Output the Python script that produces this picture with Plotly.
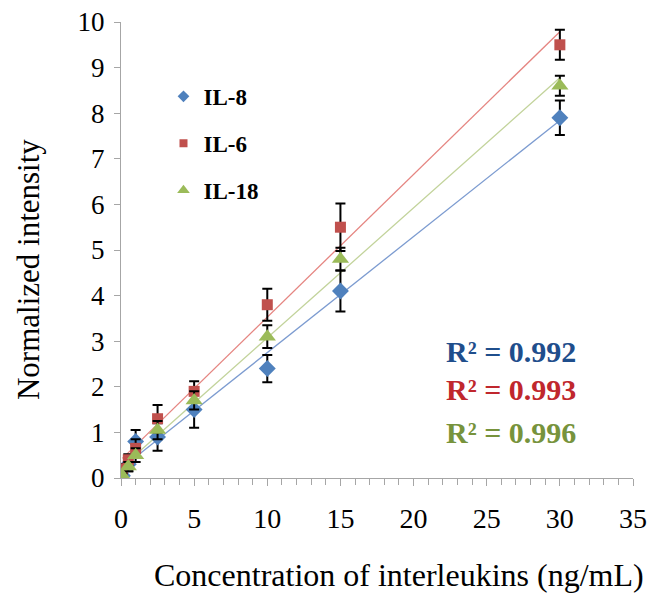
import numpy as np
import plotly.graph_objects as go

conc = [0.1, 0.5, 1, 2.5, 5, 10, 15, 30]
il8 = [0.05, 0.3, 0.8, 0.9, 1.5, 2.4, 4.1, 7.9]
il8_err = [0.05, 0.15, 0.25, 0.3, 0.4, 0.3, 0.45, 0.38]
il6 = [0.2, 0.4, 0.65, 1.3, 1.9, 3.8, 5.5, 9.5]
il6_err = [0.1, 0.12, 0.2, 0.3, 0.22, 0.35, 0.52, 0.33]
il18 = [0.05, 0.25, 0.5, 1.05, 1.7, 3.1, 4.8, 8.6]
il18_err = [0.05, 0.1, 0.15, 0.2, 0.2, 0.25, 0.25, 0.22]

names = ["IL-8", "IL-6", "IL-18"]
r2_labels = ["R² = 0.992", "R² = 0.993", "R² = 0.996"]
r2_pos = [2.78, 1.93, 0.99]

series = [il8, il6, il18]
errs = [il8_err, il6_err, il18_err]
colors = ["#4F81BD", "#C0504D", "#9BBB59"]
line_colors = ["#7C9BD0", "#E58581", "#C2D39B"]
symbols = ["diamond", "square", "triangle-up"]
sizes = [13, 11, 15]
legend_sizes = [9, 8, 11]
r2_colors = ["#1F4E8C", "#C0272D", "#77933C"]

font = "Liberation Serif"
fig = go.Figure()

# linear trendlines
for ys, lc in zip(series, line_colors):
    k, b = np.polyfit(conc, ys, 1)
    xs = [min(conc), max(conc)]
    fig.add_trace(go.Scatter(x=xs, y=[k * v + b for v in xs], mode="lines",
                             line=dict(color=lc, width=1.3), showlegend=False,
                             hoverinfo="skip"))

for i, (ys, er) in enumerate(zip(series, errs)):
    fig.add_trace(go.Scatter(
        x=conc, y=ys, mode="markers", name=names[i], showlegend=False,
        marker=dict(symbol=symbols[i], size=sizes[i], color=colors[i]),
        error_y=dict(type="data", array=er, visible=True, color="black",
                     thickness=2, width=5),
    ))
    # legend entry (no data drawn)
    fig.add_trace(go.Scatter(
        x=[None], y=[None], mode="markers", name=names[i], legendgroup=names[i],
        marker=dict(symbol=symbols[i], size=legend_sizes[i], color=colors[i]),
    ))

for i, t in enumerate(r2_labels):
    fig.add_annotation(x=0.893, y=r2_pos[i], xref="paper", yref="y",
                       text=f"<b>{t}</b>", showarrow=False, xanchor="right",
                       font=dict(family=font, size=30, color=r2_colors[i]))

fig.add_annotation(x=0.542, y=0, xref="paper", yref="paper", yshift=-97,
                   text="Concentration of interleukins (ng/mL)", showarrow=False,
                   xanchor="center", yanchor="middle",
                   font=dict(family=font, size=32, color="black"))
fig.add_annotation(x=0, y=0.456, xref="paper", yref="paper", xshift=-93,
                   text="Normalized intensity", showarrow=False, textangle=-90,
                   xanchor="center", yanchor="middle",
                   font=dict(family=font, size=31, color="black"))

fig.update_layout(
    width=649, height=593,
    margin=dict(l=121, r=16, t=22, b=115),
    paper_bgcolor="white", plot_bgcolor="white",
    font=dict(family=font, size=27, color="black"),
    legend=dict(x=0.083, y=0.884, xanchor="left", yanchor="top",
                font=dict(family=font, size=23, color="black", weight="bold"),
                tracegroupgap=14, bgcolor="rgba(0,0,0,0)", itemwidth=30),
    showlegend=True,
)
fig.update_xaxes(range=[0, 35], tickvals=[0, 5, 10, 15, 20, 25, 30, 35],
                 automargin=False, ticklabeloverflow="allow",
                 showgrid=False, zeroline=False, showline=True, linecolor="#A6A6A6",
                 linewidth=1, ticks="outside", ticklen=7, tickcolor="#A6A6A6",
                 minor=dict(dtick=1, ticks="outside", ticklen=6, tickcolor="#A6A6A6"),
                 tickfont=dict(family=font, size=28), ticklabelstandoff=8)
fig.update_yaxes(range=[0, 10], dtick=1, showgrid=False, zeroline=False,
                 automargin=False, ticklabeloverflow="allow",
                 showline=True, linecolor="#A6A6A6", linewidth=1,
                 ticks="outside", ticklen=6, tickcolor="#A6A6A6",
                 tickfont=dict(family=font, size=27), ticklabelstandoff=4)

fig.write_html("out.html", config={"displayModeBar": False},
               post_script="document.body.style.margin='0';document.body.style.overflow='hidden';")
